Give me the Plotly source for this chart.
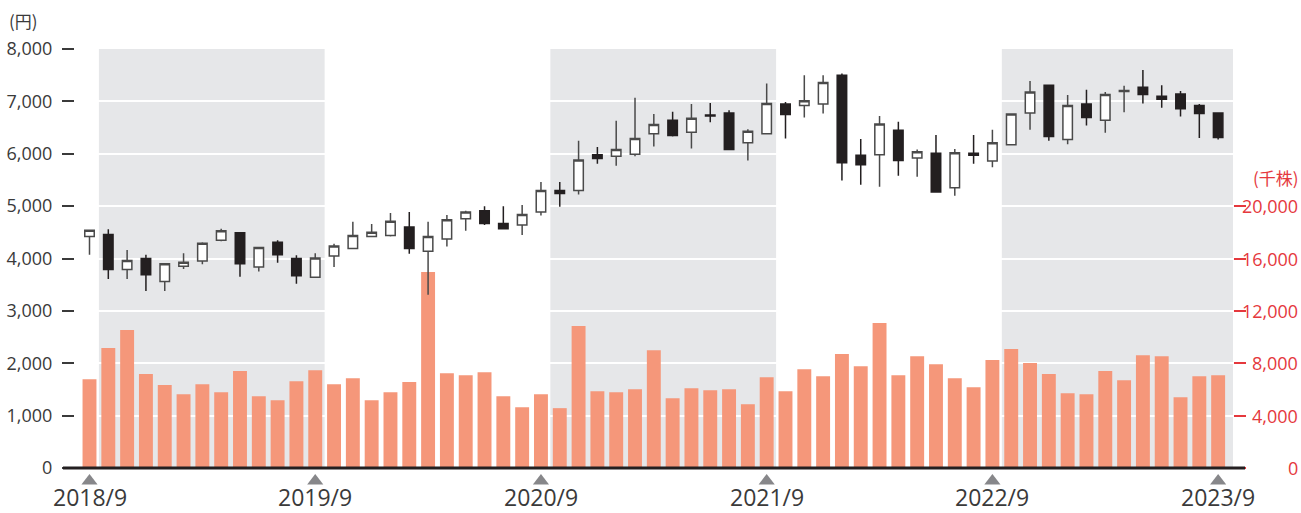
import plotly.graph_objects as go
import pandas as pd

# Monthly periods 2018/9 .. 2023/9
months = [p.strftime("%Y/%m") for p in pd.period_range("2018-09", "2023-09", freq="M")]

open_ = [4420, 4460, 3790, 4000, 3560, 3850, 3950, 4350, 4490, 3840, 4310, 4000, 3640,
         4050, 4190, 4420, 4440, 4600, 4140, 4370, 4760, 4910, 4670, 4640, 4890,
         5300, 5300, 5980, 5950, 5990, 6380, 6640, 6410, 6740, 6780, 6210, 6380,
         6950, 6920, 6950, 7500, 5970, 5980, 6450, 5920, 6010, 5350,
         6010, 5860, 6170, 6780, 7310, 6270, 6950, 6640, 7190, 7270, 7100, 7140, 6920, 6780]
high = [4550, 4560, 4160, 4070, 3900, 4100, 4310, 4570, 4500, 4220, 4350, 4060, 4100,
        4280, 4700, 4660, 4870, 4890, 4700, 4830, 4910, 5000, 5000, 5020, 5460,
        5460, 6250, 6130, 6630, 7070, 6760, 6800, 6950, 6970, 6830, 6470, 7340,
        6990, 7500, 7500, 7530, 6280, 6720, 6610, 6080, 6360, 6090,
        6360, 6460, 6770, 7390, 7320, 7120, 7220, 7180, 7300, 7600, 7310, 7200, 6950, 6780]
low = [4070, 3610, 3610, 3380, 3380, 3800, 3890, 4330, 3650, 3750, 3920, 3520, 3630,
       3840, 4180, 4420, 4420, 4090, 3310, 4230, 4530, 4640, 4570, 4450, 4820,
       4990, 5220, 5810, 5770, 5950, 6140, 6330, 6100, 6600, 6070, 5870, 6370,
       6290, 6690, 6770, 5490, 5410, 5370, 5580, 5560, 5260, 5200,
       5810, 5740, 6160, 6460, 6250, 6180, 6540, 6400, 6790, 6960, 6880, 6710, 6300, 6270]
close = [4540, 3790, 3960, 3690, 3900, 3930, 4290, 4530, 3900, 4210, 4070, 3670, 4010,
         4240, 4440, 4500, 4710, 4190, 4420, 4740, 4890, 4670, 4570, 4840, 5300,
         5240, 5880, 5910, 6080, 6290, 6560, 6350, 6680, 6720, 6080, 6430, 6960,
         6750, 7010, 7360, 5830, 5790, 6570, 5870, 6040, 5270, 6020,
         5970, 6210, 6760, 7180, 6330, 6920, 6690, 7130, 7210, 7130, 7040, 6860, 6770, 6310]

# Monthly trading volume (thousand shares)
volume = [6780, 9160, 10530, 7170, 6330, 5640, 6400, 5790, 7400, 5480, 5180, 6630, 7470,
          6400, 6860, 5180, 5790, 6560, 14970, 7240, 7090, 7320, 5480, 4640, 5640,
          4570, 10840, 5870, 5790, 6020, 9000, 5330, 6100, 5940, 6020, 4870, 6940,
          5870, 7550, 7010, 8700, 7780, 11070, 7090, 8540, 7930, 6860,
          6170, 8240, 9080, 8010, 7170, 5710, 5640, 7400, 6710, 8620, 8540, 5410, 7010, 7090]

year_labels = ["2018/9", "2019/9", "2020/9", "2021/9", "2022/9", "2023/9"]
year_pos = [0, 12, 24, 36, 48, 60]

price_ticks = [0, 1000, 2000, 3000, 4000, 5000, 6000, 7000, 8000]
volume_ticks = [0, 4000, 8000, 12000, 16000, 20000]

# Fiscal-year shading (Oct..Sep), alternating
bands = [(0.5, 12.5), (24.5, 36.5), (48.5, 61.5)]

RED = "#e5383d"
DARK = "#231f20"
TXT = "#3a3a3a"
SALMON = "#f5977a"
BAND = "#e6e7e9"

# page geometry (px): plot frame and a strip below it for the year markers
WIDTH, HEIGHT = 1301, 513
LEFT, RIGHT, TOP = 75, 1233, 49
BASE = 468
PW, PH = RIGHT - LEFT, HEIGHT - TOP
main_dom = [(HEIGHT - BASE) / PH, 1.0]
strip_dom = [0.0, (HEIGHT - BASE) / PH]


def px(p):
    return (p - LEFT) / PW


def py(p):
    return (HEIGHT - p) / PH


x = list(range(len(months)))

fig = go.Figure()

fig.add_trace(go.Bar(
    x=x, y=volume, width=0.74, marker=dict(color=SALMON, line=dict(width=0)),
    xaxis="x", yaxis="y", hoverinfo="skip", showlegend=False,
))

fig.add_trace(go.Candlestick(
    x=x, open=open_, high=high, low=low, close=close, xaxis="x", yaxis="y2",
    increasing=dict(fillcolor="#ffffff", line=dict(color="#4a4a4a", width=1.5)),
    decreasing=dict(fillcolor=DARK, line=dict(color=DARK, width=1.5)),
    whiskerwidth=0, showlegend=False, hoverinfo="skip",
))

# fiscal year-end markers in the strip under the baseline
fig.add_trace(go.Scatter(
    x=year_pos, y=[32] * len(year_pos), xaxis="x", yaxis="y3", mode="markers",
    marker=dict(symbol="triangle-up", size=14, color="#87878a", line=dict(width=0)),
    showlegend=False, hoverinfo="skip",
))

shapes = []
for x0, x1 in bands:
    shapes.append(dict(type="rect", xref="x", yref="y domain", x0=x0, x1=x1, y0=0, y1=1,
                       fillcolor=BAND, line=dict(width=0), layer="below"))
# baseline spanning both tick columns
shapes.append(dict(type="line", xref="paper", yref="y domain",
                   x0=px(63), x1=px(1245), y0=0, y1=0,
                   line=dict(color=DARK, width=3), layer="above"))

annotations = []
for p, t in zip(year_pos, year_labels):
    annotations.append(dict(x=p, y=py(497), xref="x", yref="paper", text=t, showarrow=False,
                            xanchor="center", yanchor="middle",
                            font=dict(family="Open Sans", size=23, color=TXT)))
for v in volume_ticks:
    annotations.append(dict(x=px(1300), y=v, xref="paper", yref="y", text=f"{v:,}",
                            showarrow=False, xanchor="right", yanchor="middle",
                            font=dict(family="Open Sans", size=18, color=RED)))
annotations.append(dict(x=px(7), y=py(20), xref="paper", yref="paper",
                        text="(円)", showarrow=False, xanchor="left", yanchor="middle",
                        font=dict(family="Noto Sans CJK JP", size=17, color=TXT)))
annotations.append(dict(x=px(1301), y=py(177), xref="paper", yref="paper",
                        text="(千株)", showarrow=False, xanchor="right", yanchor="middle",
                        font=dict(family="Noto Sans CJK JP", size=17, color=RED)))

fig.update_layout(
    width=WIDTH, height=HEIGHT,
    margin=dict(l=LEFT, r=WIDTH - RIGHT, t=TOP, b=0, pad=0, autoexpand=False),
    paper_bgcolor="white", plot_bgcolor="rgba(0,0,0,0)",
    boxgap=0.28, barmode="overlay",
    xaxis=dict(range=[-0.771, 60.79], showgrid=False, zeroline=False, showticklabels=False,
               ticks="", showline=False, automargin=False, anchor="y",
               rangeslider=dict(visible=False)),
    yaxis=dict(domain=main_dom, range=[0, 32000], side="right", tickvals=volume_ticks,
               ticks="outside", ticklen=12, tickwidth=1.5, tickcolor=RED,
               showticklabels=False, showgrid=False, zeroline=False, showline=False,
               automargin=False, anchor="x"),
    yaxis2=dict(domain=main_dom, range=[0, 8000], side="left", overlaying="y",
                tickvals=price_ticks, tickformat=",d", ticks="outside", ticklen=12,
                tickwidth=1.5, tickcolor=TXT,
                tickfont=dict(family="Open Sans", size=18, color=TXT), ticklabelstandoff=6,
                showgrid=True, gridcolor="white", gridwidth=1.5, zeroline=False,
                showline=False, automargin=False, anchor="x"),
    yaxis3=dict(domain=strip_dom, range=[0, HEIGHT - BASE], visible=False, anchor="x",
                fixedrange=True),
    shapes=shapes, annotations=annotations,
)

fig.write_html("out.html")
